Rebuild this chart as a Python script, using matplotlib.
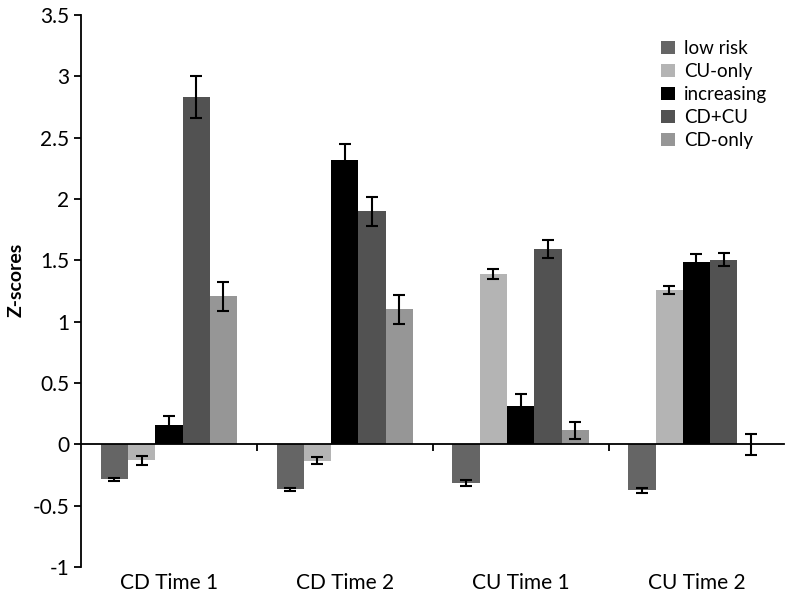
import numpy as np
import matplotlib.pyplot as plt
from matplotlib.transforms import blended_transform_factory

plt.rcParams['font.family'] = ['Lato', 'DejaVu Sans']

# data
categories = ['CD Time 1', 'CD Time 2', 'CU Time 1', 'CU Time 2']
groups = ['low risk', 'CU-only', 'increasing', 'CD+CU', 'CD-only']
colors = ['#656565', '#b4b4b4', '#000000', '#525252', '#969696']

low_risk = [-0.285, -0.366, -0.313, -0.372]
cu_only = [-0.13, -0.134, 1.39, 1.26]
increasing = [0.16, 2.315, 0.31, 1.487]
cd_cu = [2.83, 1.90, 1.59, 1.505]
cd_only = [1.206, 1.10, 0.116, 0.0]

low_risk_err = [0.01, 0.01, 0.023, 0.02]
cu_only_err = [0.037, 0.028, 0.04, 0.035]
increasing_err = [0.07, 0.13, 0.10, 0.063]
cd_cu_err = [0.17, 0.12, 0.073, 0.055]
cd_only_err = [0.12, 0.115, 0.07, 0.085]

values = [low_risk, cu_only, increasing, cd_cu, cd_only]
errors = [low_risk_err, cu_only_err, increasing_err, cd_cu_err, cd_only_err]

fig, ax = plt.subplots(figsize=(7.86, 5.97), dpi=100)
fig.subplots_adjust(left=0.103, right=0.998, top=0.975, bottom=0.05)

x = np.arange(len(categories))
w = 0.155
for i, (vals, errs) in enumerate(zip(values, errors)):
    pos = x + (i - 2) * w
    ax.bar(pos, vals, width=w, color=colors[i], label=groups[i])
    ax.errorbar(pos, vals, yerr=errs, fmt='none', ecolor='black',
                elinewidth=1.5, capsize=4.5, capthick=1.5)

ax.set_xlim(-0.5, 3.5)
ax.set_ylim(-1, 3.5)
ax.set_yticks(np.arange(-1, 3.51, 0.5))
ax.set_yticklabels(['-1', '-0.5', '0', '0.5', '1', '1.5', '2', '2.5', '3', '3.5'])
ax.tick_params(axis='y', labelsize=15, width=1.3, length=5, direction='out')

ax.spines['top'].set_visible(False)
ax.spines['right'].set_visible(False)
ax.spines['left'].set_linewidth(1.3)
ax.spines['bottom'].set_position(('data', 0))
ax.spines['bottom'].set_linewidth(1.3)

# ticks between groups on the zero line, category names below the plot
ax.set_xticks([0.5, 1.5, 2.5])
ax.set_xticklabels([])
ax.tick_params(axis='x', width=1.3, length=5, direction='out')
trans = blended_transform_factory(ax.transData, ax.transAxes)
for xi, name in zip(x, categories):
    ax.text(xi, -0.01, name, transform=trans, ha='center', va='top', fontsize=15)

ax.set_ylabel('Z-scores', fontsize=14, fontweight='bold')
ax.yaxis.set_label_coords(-0.08, 0.52)

ax.legend(loc='upper right', bbox_to_anchor=(1.0, 0.985), frameon=False,
          fontsize=13.5, handlelength=0.75, handleheight=0.75,
          handletextpad=0.5, labelspacing=0.32)

plt.savefig('out.png', dpi=100)
